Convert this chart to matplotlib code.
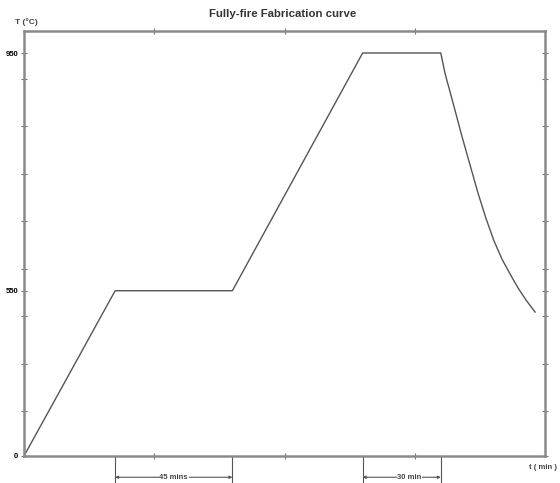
"""Fully-fire fabrication temperature profile (schematic)."""

import matplotlib
matplotlib.use("Agg")
import matplotlib.pyplot as plt
import numpy as np

# Section: profile data, time in minutes and temperature in degrees C.
time_min = [0, 35, 80, 130, 160, 161.6, 164.7, 168.1, 171.2, 174.3, 177.4, 180.4, 183.5, 186.6,
            189.6, 192.7, 196.2]
temp_c = [0, 550, 550, 950, 950, 916, 866, 810, 762, 714, 671, 634, 603, 578, 555, 519, 479]

y_tick_values = [0, 550, 950]
y_tick_labels = ["0", "550", "950"]
x_minor_ticks = [50, 100, 150]

# the chart is a schematic, so the temperature axis is not linear
scale_temp = [0, 550, 950, 2000]
scale_height = [0, 165.3, 403, 1027]

hold_spans = [(35, 80, "45 mins", 57.5), (130, 160, "30 min", 148)]


def forward(v):
    return np.interp(v, scale_temp, scale_height)


def inverse(h):
    return np.interp(h, scale_height, scale_temp)


plt.rcParams["font.family"] = ["Liberation Sans", "DejaVu Sans"]

fig = plt.figure(figsize=(5.6, 4.83), dpi=100)
ax = fig.add_axes([24 / 560, 27 / 483, 521 / 560, 425 / 483])

ax.plot(time_min, temp_c, color="#555555", linewidth=1.0)

ax.set_yscale("function", functions=(forward, inverse))
ax.set_xlim(0, 200)
ax.set_ylim(0, inverse(425))

ax.set_yticks(y_tick_values)
ax.set_yticklabels(y_tick_labels, fontsize=5.5, fontweight="bold")
ax.set_yticks(inverse(np.arange(45, 420, 47.5)), minor=True)
ax.set_xticks([])
ax.set_xticks(x_minor_ticks, minor=True)
ax.tick_params(which="both", direction="inout", length=4, width=0.8, color="#777777",
               right=True, top=True, pad=2)

for side in ax.spines.values():
    side.set_color("#8a8a8a")
    side.set_linewidth(1.8)

# hold-time brackets under the axis
xtrans = ax.get_xaxis_transform()
for start, end, label, label_x in hold_spans:
    for x in (start, end):
        ax.plot([x, x], [0, -0.064], transform=xtrans, color="#555555", linewidth=0.8, clip_on=False)
    ax.annotate("", xy=(start, -0.05), xytext=(end, -0.05), xycoords=xtrans, textcoords=xtrans,
                arrowprops=dict(arrowstyle="<|-|>", color="#555555", linewidth=0.8,
                                mutation_scale=4, shrinkA=0, shrinkB=0))
    ax.text(label_x, -0.05, label, transform=xtrans, ha="center", va="center",
            fontsize=5.5, fontweight="bold", color="#444444",
            bbox=dict(facecolor="white", edgecolor="none", pad=0.5))

ax.text(0.969, -0.028, "t ( min )", transform=ax.transAxes, ha="left", va="center",
        fontsize=5.5, fontweight="bold", color="#444444", clip_on=False)
ax.text(-0.017, 1.021, "T (°C)", transform=ax.transAxes, ha="left", va="center",
        fontsize=6, fontweight="bold", color="#444444")
fig.text(0.505, 0.971, "Fully-fire Fabrication curve", ha="center", va="center",
         fontsize=8.2, fontweight="bold", color="#333333")

fig.savefig("out.png", dpi=100)
